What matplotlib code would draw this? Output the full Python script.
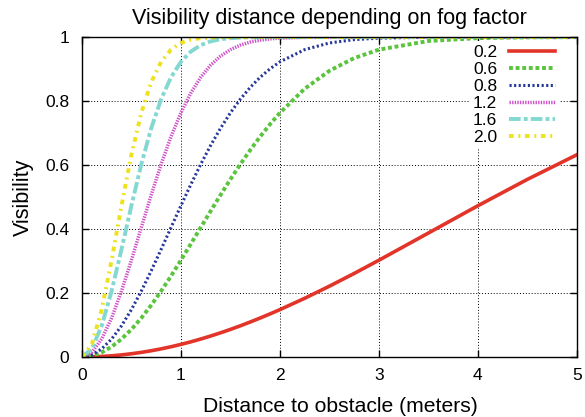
import matplotlib
matplotlib.use("Agg")
import matplotlib.pyplot as plt

plt.rcParams['font.family'] = ['Liberation Sans', 'DejaVu Sans']

distance = [0, 0.1, 0.2, 0.3, 0.4, 0.5, 0.6, 0.7, 0.8, 0.9, 1.0, 1.1, 1.2, 1.3, 1.4,
            1.5, 1.6, 1.7, 1.8, 1.9, 2.0, 2.25, 2.5, 2.75, 3.0, 3.5, 4.0, 4.5, 5.0]

vis_02 = [0, 0.0004, 0.0016, 0.0036, 0.0064, 0.0100, 0.0143, 0.0194, 0.0253, 0.0319,
          0.0392, 0.0472, 0.0560, 0.0654, 0.0754, 0.0861, 0.0973, 0.1092, 0.1216,
          0.1345, 0.1479, 0.1833, 0.2212, 0.2610, 0.3023, 0.3874, 0.4727, 0.5551, 0.6321]
vis_06 = [0, 0.0036, 0.0143, 0.0319, 0.0560, 0.0861, 0.1216, 0.1617, 0.2058, 0.2529,
          0.3023, 0.3531, 0.4045, 0.4558, 0.5062, 0.5551, 0.6021, 0.6467, 0.6885,
          0.7274, 0.7631, 0.8384, 0.8946, 0.9343, 0.9608, 0.9878, 0.9968, 0.9993, 0.9999]
vis_08 = [0, 0.0064, 0.0253, 0.0560, 0.0973, 0.1479, 0.2058, 0.2692, 0.3361, 0.4045,
          0.4727, 0.5390, 0.6021, 0.6610, 0.7148, 0.7631, 0.8057, 0.8427, 0.8743,
          0.9008, 0.9227, 0.9608, 0.9817, 0.9921, 0.9968, 0.9996, 1.0, 1.0, 1.0]
vis_12 = [0, 0.0143, 0.0560, 0.1216, 0.2058, 0.3023, 0.4045, 0.5062, 0.6021, 0.6885,
          0.7631, 0.8249, 0.8743, 0.9123, 0.9405, 0.9608, 0.9749, 0.9844, 0.9906,
          0.9945, 0.9968, 0.9993, 0.9999, 1.0, 1.0, 1.0, 1.0, 1.0, 1.0]
vis_16 = [0, 0.0253, 0.0973, 0.2058, 0.3361, 0.4727, 0.6021, 0.7148, 0.8057, 0.8743,
          0.9227, 0.9548, 0.9749, 0.9868, 0.9934, 0.9968, 0.9986, 0.9994, 0.9997,
          0.9999, 1.0, 1.0, 1.0, 1.0, 1.0, 1.0, 1.0, 1.0, 1.0]
vis_20 = [0, 0.0392, 0.1479, 0.3023, 0.4727, 0.6321, 0.7631, 0.8591, 0.9227, 0.9608,
          0.9817, 0.9921, 0.9968, 0.9988, 0.9996, 0.9999, 1.0, 1.0, 1.0,
          1.0, 1.0, 1.0, 1.0, 1.0, 1.0, 1.0, 1.0, 1.0, 1.0]

fog_labels = ['0.2', '0.6', '0.8', '1.2', '1.6', '2.0']
x_ticks = [0, 1, 2, 3, 4, 5]
y_ticks = [0, 0.2, 0.4, 0.6, 0.8, 1]
y_tick_labels = ['0', '0.2', '0.4', '0.6', '0.8', '1']

series = [vis_02, vis_06, vis_08, vis_12, vis_16, vis_20]
styles = [
    dict(color='#e3342a', lw=2.6, ls='-'),
    dict(color='#5ac43c', lw=2.8, ls=(0, (1.0, 0.7))),
    dict(color='#27389a', lw=2.2, ls=(0, (0.7, 0.8))),
    dict(color='#cf52c8', lw=2.5, ls=(0, (0.4, 0.35))),
    dict(color='#84d8d2', lw=2.8, ls=(0, (3.0, 0.8, 1.0, 0.8))),
    dict(color='#ede21c', lw=2.8, ls=(0, (1.2, 1.2, 0.5, 1.2))),
]

fig = plt.figure(figsize=(5.85, 4.17), dpi=100)
ax = fig.add_axes([0.140, 0.144, 0.846, 0.767])

for vals, lab, st in zip(series, fog_labels, styles):
    ax.plot(distance, vals, label=lab, **st)

ax.set_xlim(0, 5)
ax.set_ylim(0, 1)
ax.set_xticks(x_ticks)
ax.set_yticks(y_ticks)
ax.set_yticklabels(y_tick_labels)
ax.tick_params(direction='in', top=True, right=True, length=5, width=1,
               labelsize=12.5, colors='black')
ax.tick_params(axis='y', pad=9)
ax.tick_params(axis='x', pad=8)
ax.grid(True, color='black', ls=(0, (1, 2)), lw=0.7)
for sp in ax.spines.values():
    sp.set_linewidth(1.0)

ax.set_title('Visibility distance depending on fog factor', fontsize=15.5, pad=9.5)
ax.set_xlabel('Distance to obstacle (meters)', fontsize=15.2)
ax.xaxis.set_label_coords(0.522, -0.125)
ax.set_ylabel('Visibility', fontsize=15.5, labelpad=8)

leg = ax.legend(loc='upper right', frameon=True, fancybox=False,
                facecolor='white', edgecolor='none', framealpha=1.0,
                markerfirst=False, fontsize=12.5, handlelength=2.65,
                labelspacing=0.1, borderpad=0.25, borderaxespad=0.3,
                handletextpad=0.7, bbox_to_anchor=(0.976, 1.005))

fig.savefig('out.png', dpi=100)
